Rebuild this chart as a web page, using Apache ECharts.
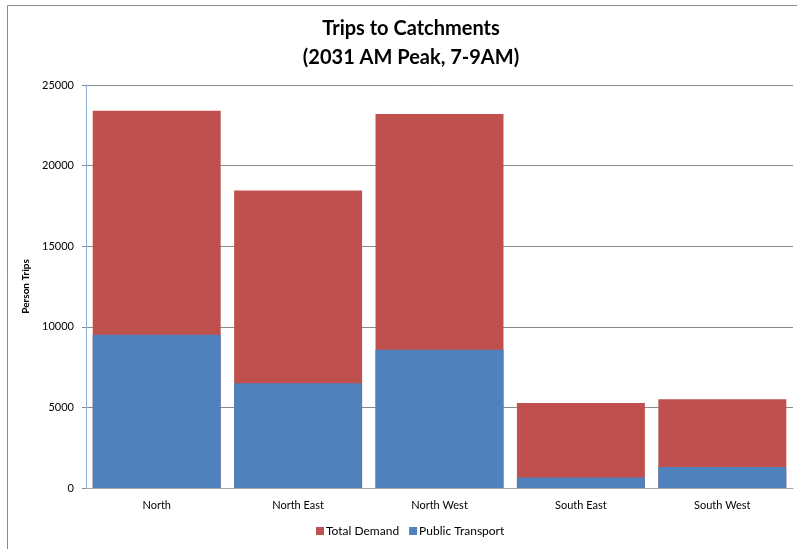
<!DOCTYPE html>
<html>
<head>
<meta charset="utf-8">
<script src="https://cdn.jsdelivr.net/npm/echarts@6/dist/echarts.min.js"></script>
<style>
  html, body { margin: 0; padding: 0; background: #fff; }
  #chart { width: 797px; height: 549px; }
</style>
</head>
<body>
<div id="chart"></div>
<script>
const catchments = ["North", "North East", "North West", "South East", "South West"];
const totalDemand = [23400, 18450, 23200, 5270, 5500];
const publicTransport = [9500, 6500, 8580, 650, 1300];

let chartDom = document.getElementById("chart");
let myChart = echarts.init(chartDom);

const font = "Lato, 'Open Sans', sans-serif";

const option = {
  animation: false,
  textStyle: { fontFamily: font },
  title: {
    text: "Trips to Catchments\n(2031 AM Peak, 7-9AM)",
    left: 406,
    textAlign: "center",
    top: 9,
    textStyle: {
      fontFamily: font,
      fontSize: 20,
      fontWeight: "bold",
      color: "#000",
      lineHeight: 29,
    },
  },
  graphic: [
    {
      type: "rect",
      shape: { x: 7.5, y: 5.5, width: 800, height: 560 },
      style: { fill: "none", stroke: "#8a8a8a", lineWidth: 1 },
      silent: true,
    },
  ],
  legend: {
    bottom: 7,
    left: 311,
    itemWidth: 8,
    itemHeight: 8,
    itemGap: 10,
    icon: "rect",
    textStyle: { fontFamily: font, fontSize: 12, color: "#000", padding: [0, 0, 0, -3] },
    data: ["Total Demand", "Public Transport"],
  },
  grid: {
    left: 86,
    right: 4,
    top: 85,
    bottom: 61,
  },
  xAxis: {
    type: "category",
    data: catchments,
    axisLine: { lineStyle: { color: "#a6a6a6", width: 1 } },
    axisTick: { show: false },
    axisLabel: { color: "#000", fontSize: 11, margin: 12, fontFamily: font },
  },
  yAxis: {
    type: "value",
    min: 0,
    max: 25000,
    interval: 5000,
    name: "Person Trips",
    nameLocation: "middle",
    nameGap: 46,
    nameTextStyle: { fontSize: 10, fontWeight: "bold", color: "#000", fontFamily: font },
    axisLine: { show: true, lineStyle: { color: "#8fb0dc", width: 1 } },
    axisTick: { show: true, length: 4, lineStyle: { color: "#8a8a8a" } },
    axisLabel: {
      color: "#000",
      fontSize: 11,
      margin: 12,
      fontFamily: font,
      formatter: function (v) {
        return String(v);
      },
    },
    splitLine: { lineStyle: { color: "#8a8a8a", width: 1 } },
  },
  series: [
    {
      name: "Total Demand",
      type: "bar",
      data: totalDemand,
      barCategoryGap: "9.5%",
      itemStyle: { color: "#c0504d" },
    },
    {
      name: "Public Transport",
      type: "bar",
      data: publicTransport,
      barGap: "-100%",
      barCategoryGap: "9.5%",
      itemStyle: { color: "#4f81bd" },
    },
  ],
};

option && myChart.setOption(option);
</script>
</body>
</html>
